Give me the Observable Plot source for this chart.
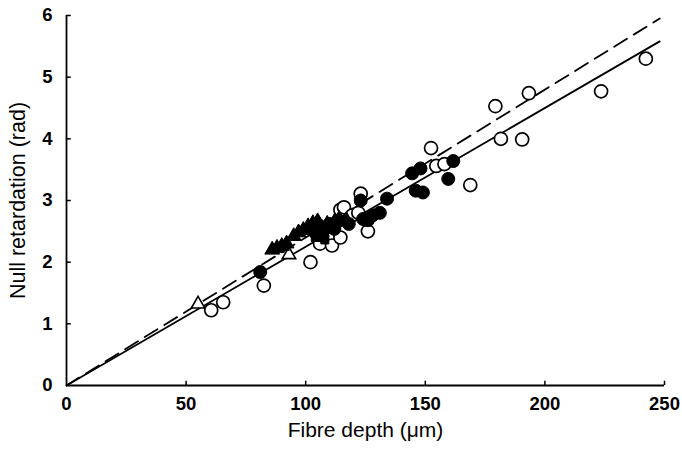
<!DOCTYPE html>
<html>
<head>
<meta charset="utf-8">
<script src="https://cdn.jsdelivr.net/npm/d3@7"></script>
<script src="https://cdn.jsdelivr.net/npm/@observablehq/plot@0.6"></script>
<style>
  html, body { margin: 0; padding: 0; background: #fff; }
  #chart svg { display: block; }
</style>
</head>
<body>
<div id="chart"></div>
<script>
// Data (Fibre depth in µm, Null retardation in rad)
const openCircles = [
  [60.5,1.22],[65.5,1.35],[82.5,1.62],[102,2.0],[106,2.30],[111,2.27],[114.5,2.40],
  [114.5,2.85],[116,2.89],[119.5,2.76],[122,2.80],[123,3.11],[126,2.50],
  [152.4,3.85],[154.6,3.56],[158,3.59],[168.8,3.25],[179.3,4.53],[181.6,4.0],
  [190.5,3.99],[193.3,4.74],[223.5,4.77],[242.2,5.30]
];
const filledCircles = [
  [81,1.84],[104,2.48],[107,2.43],[110,2.62],[112,2.54],[118,2.62],[123,3.00],
  [124,2.70],[126,2.68],[128,2.76],[131,2.80],[134,3.03],[144.5,3.44],[148,3.52],
  [146,3.16],[149,3.13],[159.6,3.35],[161.7,3.64]
];
const filledTriangles = [
  [86,2.20],[88,2.23],[90,2.26],[92,2.30],[95,2.42],[97,2.48],[99,2.52],[101,2.58],
  [103,2.63],[105,2.66],[107,2.55],[109,2.62],[112,2.65],[114,2.70],[117,2.68]
];
const openTriangles = [[55,1.32],[93,2.12]];
const filledSquares = [[104,2.40],[108,2.36]];
const fitSolid = [[0,0],[248,5.58]];
const fitDashed = [[0,0],[248,5.95]];
const xTicks = [0,50,100,150,200,250];
const yTicks = [0,1,2,3,4,5,6];

const R = 6.5;
const font = "'Liberation Sans', Arial, Helvetica, sans-serif";

const chart = Plot.plot({
  width: 682,
  height: 449,
  marginLeft: 66,
  marginRight: 18,
  marginTop: 15,
  marginBottom: 64,
  style: { fontFamily: font, background: "#fff", color: "#000" },
  x: { domain: [0, 250] },
  y: { domain: [0, 6] },
  marks: [
    // axis lines
    Plot.ruleX([0], { y1: 0, y2: 6, stroke: "#000", strokeWidth: 1.8 }),
    Plot.ruleY([0], { x1: 0, x2: 250, stroke: "#000", strokeWidth: 1.8 }),
    // inward ticks
    Plot.ruleX(xTicks.slice(1), { x: d => d, y1: 0, y2: 0.07, stroke: "#000", strokeWidth: 1.5 }),
    Plot.ruleY(yTicks.slice(1), { y: d => d, x1: 0, x2: 2, stroke: "#000", strokeWidth: 1.5 }),
    // tick labels
    Plot.axisX(xTicks, { tickSize: 0, tickPadding: 11, fontSize: 18.5, fontWeight: "bold",
      tickFormat: d3.format("d"), label: null }),
    Plot.axisY(yTicks, { tickSize: 0, tickPadding: 14, fontSize: 18.5, fontWeight: "bold",
      tickFormat: d3.format("d"), label: null }),
    // axis titles
    Plot.text(["Null retardation (rad)"], { frameAnchor: "left", dx: -48, rotate: -90,
      fontSize: 21.5, textAnchor: "middle", lineAnchor: "middle" }),
    Plot.text(["Fibre depth (μm)"], { frameAnchor: "bottom", dy: 45,
      fontSize: 21, lineAnchor: "middle" }),
    // regression lines
    Plot.line(fitDashed, { x: d => d[0], y: d => d[1], stroke: "#000", strokeWidth: 1.8, strokeDasharray: "15,8" }),
    Plot.line(fitSolid, { x: d => d[0], y: d => d[1], stroke: "#000", strokeWidth: 1.8 }),
    // points
    Plot.dot(openCircles, { x: d => d[0], y: d => d[1], r: R, fill: "#fff", stroke: "#000", strokeWidth: 1.7 }),
    Plot.dot(openTriangles, { x: d => d[0], y: d => d[1], r: 5, symbol: "triangle", fill: "#fff", stroke: "#000", strokeWidth: 1.6 }),
    Plot.dot(filledCircles, { x: d => d[0], y: d => d[1], r: R, fill: "#000", stroke: "#000", strokeWidth: 1 }),
    Plot.dot(filledTriangles, { x: d => d[0], y: d => d[1], r: 5.5, symbol: "triangle", fill: "#000", stroke: "#000", strokeWidth: 1 }),
    Plot.dot(filledSquares, { x: d => d[0], y: d => d[1], r: 4.5, symbol: "square", fill: "#000", stroke: "#000", strokeWidth: 1 })
  ]
});
document.getElementById("chart").appendChild(chart);
</script>
</body>
</html>
